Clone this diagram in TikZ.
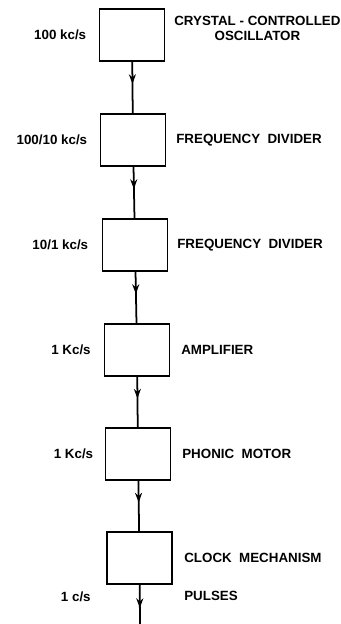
\documentclass[tikz,border=0pt]{standalone}
\usepackage{fontspec}
\setmainfont{Liberation Sans}
\usetikzlibrary{positioning,arrows.meta,decorations.markings}

\begin{document}
\begin{tikzpicture}[
        unit/.style={draw=black,rectangle,line width=1.1pt,minimum width=1.3cm,minimum height=1.04cm,inner sep=0pt},
        lab/.style={font=\fontsize{7.6}{8.6}\selectfont\bfseries,inner sep=0pt,align=center},
        flow/.style={line width=1pt,postaction={decorate},decoration={markings,mark=at position #1 with {\arrow{Stealth[length=5.5pt,width=4pt]}}}},
        flow/.default=0.43
      ]
      \useasboundingbox (0,0) rectangle (6.82,-12.48);
      % the chain of units
      \node[unit] (osc) at (2.64,-0.70) {};
      \node[unit] (divA) at (2.66,-2.80) {};
      \node[unit] (divB) at (2.70,-4.90) {};
      \node[unit] (amp) at (2.74,-7.00) {};
      \node[unit] (motor) at (2.76,-9.08) {};
      \node[unit] (clock) at (2.79,-11.16) {};
      \coordinate (out) at (2.80,-12.48);
      % rates on the left
      \node[lab,left=0.24cm of osc] (rateA) {100 kc/s};
      \node[lab,left=0.24cm of divA] (rateB) {100/10 kc/s};
      \node[lab,left=0.26cm of divB] (rateC) {10/1 kc/s};
      \node[lab,left=0.25cm of amp] (rateD) {1 Kc/s};
      \node[lab,left=0.22cm of motor] (rateE) {1 Kc/s};
      \node[lab,below left=0.12cm and 0.3cm of clock.south west] (rateF) {1 c/s};
      % names on the right
      \node[lab,right=0.17cm of osc,yshift=0.14cm] (nameA) {CRYSTAL - CONTROLLED\\OSCILLATOR};
      \node[lab,right=0.19cm of divA] (nameB) {FREQUENCY\ \ DIVIDER};
      \node[lab,right=0.17cm of divB] (nameC) {FREQUENCY\ \ DIVIDER};
      \node[lab,right=0.21cm of amp] (nameD) {AMPLIFIER};
      \node[lab,right=0.21cm of motor] (nameE) {PHONIC\ \ MOTOR};
      \node[lab,right=0.22cm of clock] (nameF) {CLOCK\ \ MECHANISM};
      \node[lab,below right=0.12cm and 0.22cm of clock.south east] (pulses) {PULSES};
      % connectors
      \draw[flow] (osc) -- (divA);
      \draw[flow] (divA) -- (divB);
      \draw[flow] (divB) -- (amp);
      \draw[flow] (amp) -- (motor);
      \draw[flow] (motor) -- (clock);
      \draw[flow=0.59] (clock) -- (out);
    \end{tikzpicture}
\end{document}
